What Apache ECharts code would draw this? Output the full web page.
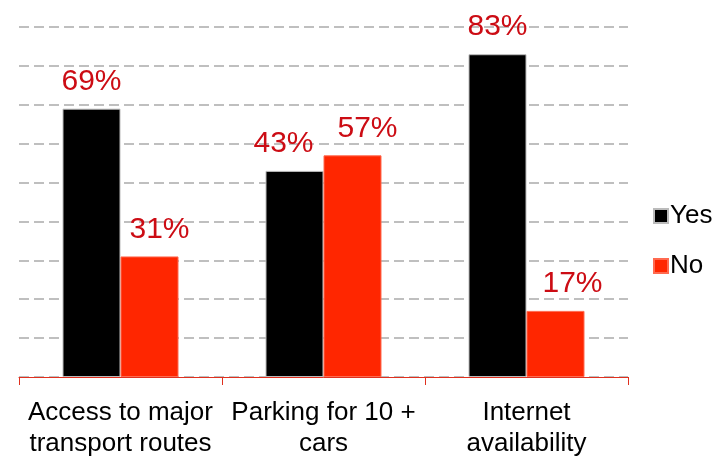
<!DOCTYPE html>
<html><head><meta charset="utf-8">
<script src="https://cdn.jsdelivr.net/npm/echarts@6/dist/echarts.min.js"></script>
<style>html,body{margin:0;padding:0;background:#fff}#c{width:728px;height:459px}</style>
</head><body><div id="c"></div>
<script>
const categories = ['Access to major\ntransport routes', 'Parking for 10 +\ncars', 'Internet\navailability'];
// bar heights as drawn in the picture
const yesValues = [69, 53, 83];
const noValues = [31, 57, 17];
// label texts as printed in the picture
const yesLabels = ['69%', '43%', '83%'];
const noLabels = ['31%', '57%', '17%'];
const seriesNames = ['Yes', 'No'];

const chart = echarts.init(document.getElementById('c'));
const font = 'Liberation Sans, Arial, sans-serif';
const labelBase = {
  show: true, position: 'top', distance: 12,
  color: '#CC0C14', fontSize: 30, fontFamily: font
};
// horizontal nudges of the value labels, as placed in the original slide
const yesShift = [0, -11, 0];
const noShift = [10, 15, 17];
const build = (vals, labels, shift) => vals.map((v, i) => ({
  value: v,
  label: Object.assign({}, labelBase, { formatter: labels[i], offset: [shift[i], 0] })
}));
chart.setOption({
  animation: false,
  grid: { left: 19, right: 100, top: 27, bottom: 78, containLabel: false },
  legend: {
    orient: 'vertical', left: 648, top: 198, itemGap: 24,
    itemWidth: 14, itemHeight: 14, icon: 'rect',
    textStyle: { fontSize: 26, color: '#000', fontFamily: font, padding: [0,0,0,-3] },
    data: seriesNames
  },
  xAxis: {
    type: 'category', data: categories,
    axisLine: { lineStyle: { color: '#E0301E', width: 1 } },
    axisTick: { show: true, length: 8, lineStyle: { color: '#E0301E' } },
    axisLabel: { interval: 0, color: '#000', fontSize: 26, lineHeight: 31, margin: 20, fontFamily: font }
  },
  yAxis: {
    type: 'value', min: 0, max: 90, interval: 10,
    axisLine: { show: false }, axisTick: { show: false }, axisLabel: { show: false },
    splitLine: { lineStyle: { color: '#AAAAAA', type: [10, 5], width: 1.5 } }
  },
  series: [
    { name: seriesNames[0], type: 'bar', data: build(yesValues, yesLabels, yesShift), barWidth: 58, barGap: '0%',
      itemStyle: { color: '#000000', borderColor: '#BBBBBB', borderWidth: 1 } },
    { name: seriesNames[1], type: 'bar', data: build(noValues, noLabels, noShift), barWidth: 58, barGap: '0%',
      itemStyle: { color: '#FF2600', borderColor: '#FF6A50', borderWidth: 1 } }
  ]
});
</script></body></html>
